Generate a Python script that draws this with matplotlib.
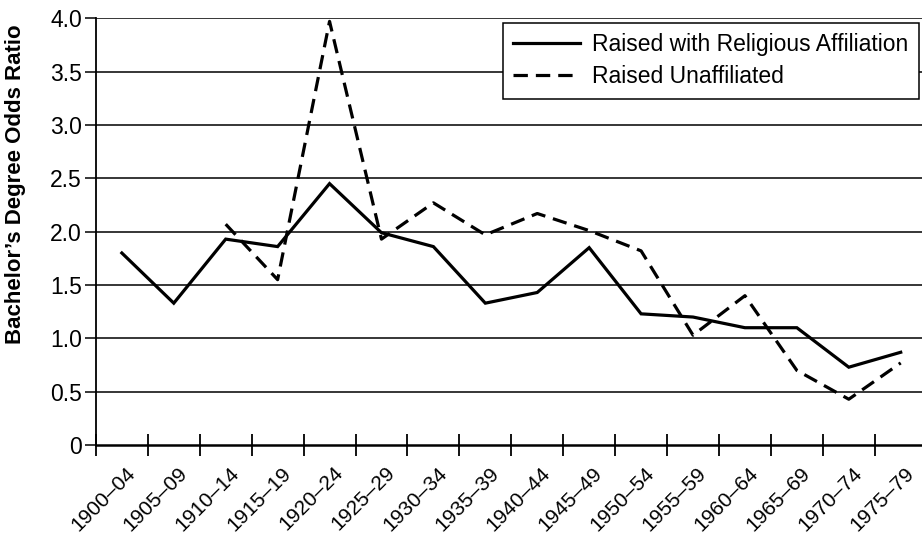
import numpy as np
import matplotlib.pyplot as plt

plt.rcParams['font.family'] = ['Liberation Sans', 'DejaVu Sans']

periodos = ['1900–04', '1905–09', '1910–14', '1915–19', '1920–24', '1925–29',
            '1930–34', '1935–39', '1940–44', '1945–49', '1950–54', '1955–59',
            '1960–64', '1965–69', '1970–74', '1975–79']

# odds ratios
religiosos = [1.80, 1.33, 1.93, 1.86, 2.45, 1.99, 1.86, 1.33, 1.43, 1.85,
              1.23, 1.20, 1.10, 1.10, 0.73, 0.87]
sin_afiliacion = [np.nan, np.nan, 2.07, 1.55, 3.97, 1.93, 2.27, 1.97, 2.17, 2.01,
                  1.82, 1.03, 1.40, 0.70, 0.43, 0.77]

y_ticks = [0, 0.5, 1.0, 1.5, 2.0, 2.5, 3.0, 3.5, 4.0]
y_labels = ['0', '0.5', '1.0', '1.5', '2.0', '2.5', '3.0', '3.5', '4.0']

fig = plt.figure(figsize=(9.22, 5.35), dpi=100)
ax = fig.add_axes([0.104, 0.168, 0.896, 0.798])

x = np.arange(len(periodos))
ax.plot(x, religiosos, color='black', lw=2.3, solid_joinstyle='miter',
        label='Raised with Religious Affiliation', clip_on=False, zorder=3)
ax.plot(x, sin_afiliacion, color='black', lw=2.3, dashes=(4.5, 2.5),
        label='Raised Unaffiliated', clip_on=False, zorder=3)

ax.set_ylim(0, 4.0)
ax.set_xlim(-0.5, 15.41)
ax.set_yticks(y_ticks)
ax.set_yticklabels(y_labels, fontsize=16.5)
for yv in y_ticks[1:]:
    ax.axhline(yv, color='black', lw=1.1, zorder=1)

# ticks entre categorias, etiquetas en el centro
ax.set_xticks(np.arange(-0.5, 15.5, 1.0))
ax.set_xticklabels([])
ax.tick_params(axis='x', direction='inout', length=16, width=1.3)
ax.tick_params(axis='y', direction='out', length=8, width=1.1, pad=2)
for i, p in enumerate(periodos):
    ax.text(i + 0.07, -0.17, p, rotation=45, ha='right', va='top',
            rotation_mode='anchor', fontsize=15)

for s in ['top', 'right']:
    ax.spines[s].set_visible(False)
ax.spines['left'].set_linewidth(1.3)
ax.spines['bottom'].set_linewidth(1.8)

ax.set_ylabel('Bachelor\u2019s Degree Odds Ratio', fontsize=16,
              fontweight='bold')
ax.yaxis.set_label_coords(-0.084, 0.612)

leg = ax.legend(loc='upper right', bbox_to_anchor=(919 / 922, 1 - 23 / 535),
                bbox_transform=fig.transFigure, borderaxespad=0,
                fontsize=16.5, frameon=True, fancybox=False, handlelength=2.9,
                borderpad=0.45, labelspacing=0.4, handletextpad=0.55)
leg.get_frame().set_edgecolor('black')
leg.get_frame().set_linewidth(1.1)
leg.get_frame().set_alpha(1)

fig.savefig('out.png', dpi=100)
